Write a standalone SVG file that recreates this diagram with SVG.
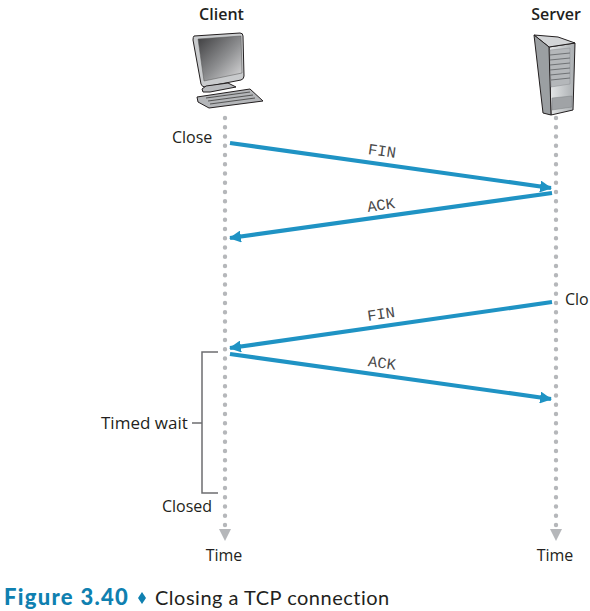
<svg xmlns="http://www.w3.org/2000/svg" width="590" height="611" viewBox="0 0 590 611">
<style>
text{font-family:"Open Sans","Noto Sans",sans-serif;font-size:16px;fill:#231f20}
.b{font-weight:600;font-size:16px}
.m{font-family:"Liberation Mono",monospace;font-size:15.5px;fill:#4a4a4a}
.dots{stroke:#b5b7ba;stroke-width:4.4;stroke-linecap:round;stroke-dasharray:0 9.25;fill:none}
.msg{stroke:#1f93c4;stroke-width:4.2;fill:none;marker-end:url(#ah)}
.br{stroke:#6d6e70;stroke-width:1.5;fill:none}
.ic{stroke:#231f20;stroke-width:1;stroke-linejoin:round}
</style>
<defs>
<marker id="ah" markerUnits="userSpaceOnUse" markerWidth="14" markerHeight="12" refX="11" refY="6" orient="auto"><path d="M0 0L12 6L0 12z" fill="#1f93c4"/></marker>
<linearGradient id="scr" x1="0" y1="0" x2="1" y2="1"><stop offset="0" stop-color="#3d3d3f"/><stop offset=".55" stop-color="#8e8f91"/><stop offset="1" stop-color="#dcdcdd"/></linearGradient>
<linearGradient id="srv" x1="0" y1="0" x2="1" y2="0"><stop offset="0" stop-color="#e6e8e9"/><stop offset="1" stop-color="#a9adb0"/></linearGradient>
</defs>
<g id="client">
<text class="b" x="221.500" y="20" text-anchor="middle">Client</text>
<path class="ic" fill="#c9cbcd" d="M194 36L240 33Q243 33 243 36L244 76Q244 79 241 80L205 87Q202 87 201 84L193 40Q193 37 194 36z"/>
<path fill="url(#scr)" stroke="#555" stroke-width=".5" d="M198 39L241 36L242 73L204 81z"/>
<path class="ic" fill="#b9bbbe" d="M202 89L206 86L228 83L236 87L210 92L203 92z"/>
<path class="ic" fill="#b4b6b9" d="M197 97L250 89L263 101L209 108L198 102z"/>
<path stroke="#555" stroke-width="1.200" fill="none" d="M206 98L250 92M208 101L253 95M210 104L255 98"/>
</g>
<g id="server">
<text class="b" x="556" y="20" text-anchor="middle">Server</text>
<path class="ic" fill="url(#srv)" d="M549 47L575 43L573 110L551 115z"/>
<path class="ic" fill="#d3d5d7" d="M534 35L558 37L575 43L549 47z"/>
<path class="ic" fill="#9b9fa2" d="M534 35L549 47L551 115L543 113z"/>
<path fill="#b4b7ba" stroke="#8a8d90" stroke-width=".5" d="M550 50L570 48V84L551 87z"/>
<path stroke="#6f7275" stroke-width="1" fill="none" d="M550 55L570 53M550 60L570 58M550 65L570 63M550 70L570 68M550 75L570 73M551 80L570 78"/>
<path fill="#a0a3a6" stroke="#7f8285" stroke-width=".5" d="M552 98L572 96V107L552 110z"/>
</g>
<g id="timelines">
<path class="dots" d="M225 118V528"/>
<path class="dots" d="M556 118V528"/>
<path d="M219 529L231 529L225 541z" fill="#b5b7ba"/>
<path d="M550 529L562 529L556 541z" fill="#b5b7ba"/>
</g>
<g id="connectors">
<path class="msg" d="M230 143L551 188"/>
<path class="msg" d="M552 193L230 238"/>
<path class="msg" d="M552 302L230 348"/>
<path class="msg" d="M230 354L551 399"/>
<path class="br" d="M218 352H202V493H218M192 423H202"/>
</g>
<g id="labels">
<text x="172" y="143">Close</text>
<text x="565" y="305">Clo</text>
<text x="101" y="429" style="font-size:17px">Timed wait</text>
<text x="162" y="512">Closed</text>
<text x="224" y="561" text-anchor="middle">Time</text>
<text x="555" y="561" text-anchor="middle">Time</text>
<text class="m" x="382" y="156" text-anchor="middle" transform="rotate(8 382 151)">FIN</text>
<text class="m" x="381" y="210" text-anchor="middle" transform="rotate(-8 381 205)">ACK</text>
<text class="m" x="381" y="319" text-anchor="middle" transform="rotate(-8 381 314)">FIN</text>
<text class="m" x="382" y="368" text-anchor="middle" transform="rotate(8 382 363)">ACK</text>
</g>
<g id="caption">
<text x="4" y="605" style="font-family:Lato,sans-serif;font-weight:900;font-size:22px;letter-spacing:1.300px;fill:#0f80b0">Figure 3.40</text>
<path d="M142 592L146 598L142 604L138 598z" fill="#0f80b0"/>
<text x="155" y="605" style="font-family:Lato,sans-serif;font-size:20px;letter-spacing:.5px">Closing a TCP connection</text>
</g>
</svg>
